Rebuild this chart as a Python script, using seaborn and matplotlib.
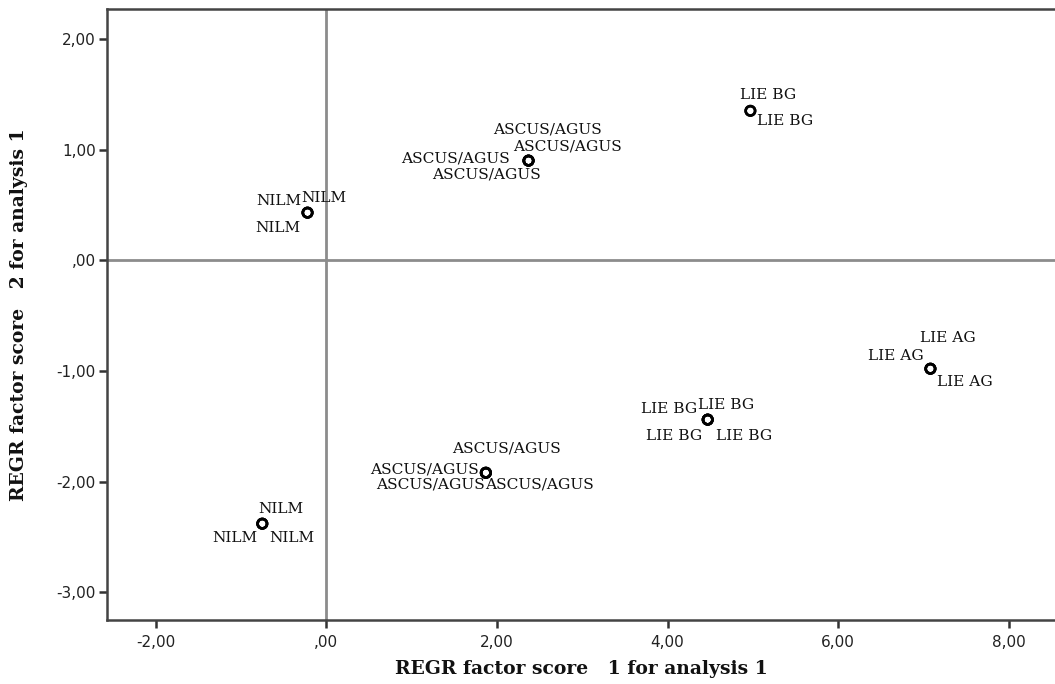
import matplotlib
matplotlib.use("Agg")
import matplotlib.pyplot as plt
import seaborn as sns
import pandas as pd

# Factor scores per case (REGR factor score 1 and 2 for analysis 1)
groups = ["NILM", "NILM", "NILM",
          "ASCUS/AGUS", "ASCUS/AGUS", "ASCUS/AGUS", "ASCUS/AGUS",
          "LIE BG", "LIE BG",
          "LIE AG", "LIE AG", "LIE AG",
          "LIE BG", "LIE BG", "LIE BG", "LIE BG",
          "ASCUS/AGUS", "ASCUS/AGUS", "ASCUS/AGUS", "ASCUS/AGUS",
          "NILM", "NILM", "NILM"]
score1 = [-0.22, -0.22, -0.22,
          2.37, 2.37, 2.37, 2.37,
          4.97, 4.97,
          7.08, 7.08, 7.08,
          4.47, 4.47, 4.47, 4.47,
          1.87, 1.87, 1.87, 1.87,
          -0.75, -0.75, -0.75]
score2 = [0.43, 0.43, 0.43,
          0.90, 0.90, 0.90, 0.90,
          1.35, 1.35,
          -0.98, -0.98, -0.98,
          -1.44, -1.44, -1.44, -1.44,
          -1.92, -1.92, -1.92, -1.92,
          -2.38, -2.38, -2.38]

x_ticks = [-2, 0, 2, 4, 6, 8]
y_ticks = [2, 1, 0, -1, -2, -3]

df = pd.DataFrame({"group": groups, "f1": score1, "f2": score2})

# Label placement around each marker: (horizontal alignment, dx px, dy px to baseline)
label_place = [("right", -6, 8), ("left", -6, 11), ("right", -7, -19),
               ("left", -35, 27), ("left", -15, 10), ("right", -19, -2), ("right", 12, -18),
               ("left", -10, 12), ("left", 7, -14),
               ("left", -10, 27), ("right", -7, 9), ("left", 7, -17),
               ("right", -10, 7), ("left", -10, 11), ("right", -5, -20), ("left", 8, -20),
               ("left", -34, 20), ("right", -7, -1), ("right", -1, -16), ("left", -1, -16),
               ("left", -4, 11), ("right", -5, -18), ("left", 7, -18)]


def spss_fmt(v):
    s = f"{v:.2f}".replace(".", ",")
    return ",00" if v == 0 else s


sns.set_style("white")

fig = plt.figure(figsize=(10.55, 6.84), dpi=100)
ax = fig.add_axes([107 / 1055, 1 - 620 / 684, 1 - 107 / 1055, (620 - 9) / 684])

ax.axvline(0, color="#8c8c8c", lw=2.0, zorder=1)
ax.axhline(0, color="#8c8c8c", lw=2.0, zorder=1)

sns.scatterplot(data=df, x="f1", y="f2", ax=ax, marker="o", s=46,
                color="black", edgecolor="black", linewidth=1.9, zorder=3, legend=False)
for coll in ax.collections:
    coll.set_facecolor("none")

for (g, xv, yv), (ha, dx, dy) in zip(zip(groups, score1, score2), label_place):
    ax.annotate(g, (xv, yv), xytext=(dx, dy), textcoords="offset pixels",
                ha=ha, va="baseline", fontsize=11.1, family="DejaVu Serif",
                color="#111111", zorder=4)

ax.set_xlim(-2.57, 8.54)
ax.set_ylim(-3.25, 2.27)
ax.set_xticks(x_ticks)
ax.set_yticks(y_ticks)
ax.set_xticklabels([spss_fmt(v) for v in x_ticks])
ax.set_yticklabels([spss_fmt(v) for v in y_ticks])

ax.tick_params(axis="both", direction="out", length=6, width=1.8, color="#333333",
               labelsize=11, labelcolor="#222222", pad=2)
for lab in ax.get_xticklabels() + ax.get_yticklabels():
    lab.set_family("DejaVu Sans")
ax.tick_params(axis="x", bottom=True, pad=5)
ax.tick_params(axis="y", left=True)

for side in ["left", "bottom", "top"]:
    ax.spines[side].set_color("#444444")
    ax.spines[side].set_linewidth(1.8)
ax.spines["right"].set_visible(False)

ax.set_xlabel("REGR factor score   1 for analysis 1", fontsize=13.5, fontweight="bold",
              family="DejaVu Serif", color="#111111", va="center")
ax.set_ylabel("REGR factor score   2 for analysis 1", fontsize=13.5, fontweight="bold",
              family="DejaVu Serif", color="#111111", va="center")
ax.xaxis.set_label_coords(0.5, (620 - 669) / 611)
ax.yaxis.set_label_coords((19 - 107) / 948, 0.5)

fig.savefig("out.png", dpi=100, facecolor="white")
